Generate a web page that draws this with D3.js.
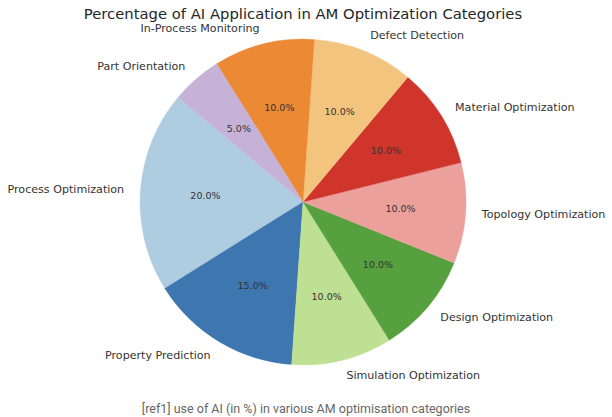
<!DOCTYPE html>
<html><head><meta charset="utf-8">
<script src="https://cdn.jsdelivr.net/npm/d3@7"></script>
<style>body{margin:0;background:#fff}svg{display:block}</style>
</head><body>
<svg id="c" width="612" height="417"></svg>
<script>
const categories = ["Process Optimization","Property Prediction","Simulation Optimization","Design Optimization","Topology Optimization","Material Optimization","Defect Detection","In-Process Monitoring","Part Orientation"];
const values = [20,15,10,10,10,10,10,10,5];
const colors = ["#afcde1","#3e76af","#bde093","#57a03f","#eba09b","#d0352b","#f2c47d","#ec8935","#c6b2d6"];
const title = "Percentage of AI Application in AM Optimization Categories";
const caption = "[ref1] use of AI (in %) in various AM optimisation categories";

const svg = d3.select("#c");
const cx = 303, cy = 202, R = 163;
const startDeg = 140; // matplotlib-style start angle, counterclockwise
const total = d3.sum(values);
const toD3 = th => (90 - th) * Math.PI / 180;
const pie = d3.pie().sort(null).value(d => d)
  .startAngle(toD3(startDeg)).endAngle(toD3(startDeg) - 2*Math.PI);
const arcs = pie(values);
const arc = d3.arc().innerRadius(0).outerRadius(R);
const g = svg.append("g").attr("transform", `translate(${cx},${cy})`);
g.selectAll("path").data(arcs).join("path")
  .attr("d", arc).attr("fill", (d,i) => colors[i])
  .attr("stroke", (d,i) => colors[i]).attr("stroke-width", 0.3);

const fmt = d3.format(".1f");
arcs.forEach((d,i) => {
  const mid = (d.startAngle + d.endAngle)/2;
  const sx = Math.sin(mid), sy = -Math.cos(mid);
  g.append("text").attr("x", 0.6*R*sx).attr("y", 0.6*R*sy)
    .attr("text-anchor","middle").attr("dominant-baseline","central")
    .attr("font-family","DejaVu Sans").attr("font-size",9.5).attr("fill","#333")
    .text(fmt(values[i]/total*100) + "%");
  g.append("text").attr("x", 1.1*R*sx).attr("y", 1.1*R*sy)
    .attr("text-anchor", sx >= 0 ? "start" : "end").attr("dominant-baseline","central")
    .attr("font-family","DejaVu Sans").attr("font-size",11.1).attr("fill","#333")
    .text(categories[i]);
});

svg.append("text").attr("x", 303).attr("y", 13).attr("text-anchor","middle")
  .attr("dominant-baseline","central")
  .attr("font-family","DejaVu Sans").attr("font-size",14.8).attr("fill","#262626").text(title);
svg.append("text").attr("x", 306).attr("y", 408).attr("text-anchor","middle")
  .attr("dominant-baseline","central")
  .attr("font-family","Roboto").attr("font-size",12.5).attr("fill","#666").text(caption);
</script>
</body></html>
